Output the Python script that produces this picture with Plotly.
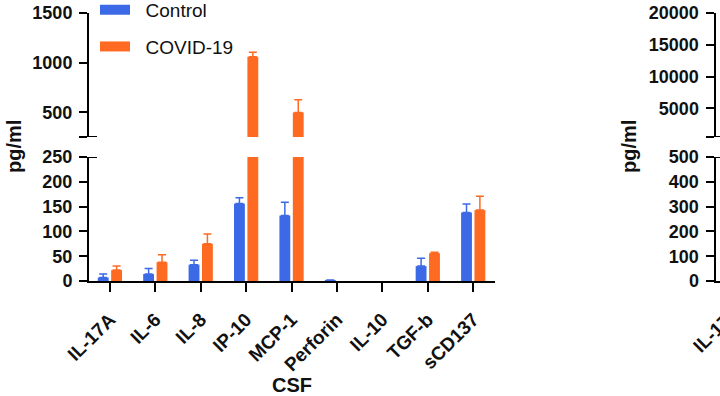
import plotly.graph_objects as go

categories = ["IL-17A", "IL-6", "IL-8", "IP-10", "MCP-1", "Perforin", "IL-10", "TGF-b", "sCD137"]
control = [7, 14, 33, 156, 132, 2, None, 30, 138]
control_err = [7, 11, 9, 12, 27, 0, 0, 16, 17]
covid = [22, 38, 75, 1060, 498, None, None, 56, 143]
covid_err = [8, 15, 20, 44, 128, 0, 0, 2, 28]

BLUE = "#3C6AE6"
ORANGE = "#FF6A22"
FONT = "Liberation Sans, Arial, sans-serif"
W, H = 720, 396

def px_x(p):
    return p / W

def px_y(p):
    return 1 - p / H

fig = go.Figure()

for axis in ["y", "y2"]:
    for name, vals, err, col in [("Control", control, control_err, BLUE),
                                 ("COVID-19", covid, covid_err, ORANGE)]:
        fig.add_trace(go.Bar(
            x=categories, y=vals, name=name, marker_color=col,
            marker_line_width=0, showlegend=False,
            xaxis="x", yaxis=axis,
            error_y=dict(type="data", array=err, arrayminus=[0] * len(err),
                         symmetric=False, color=col, thickness=1.5, width=4),
        ))

# legend entries (wide swatches)
for name, col in [("Control", BLUE), ("COVID-19", ORANGE)]:
    fig.add_trace(go.Scatter(x=[None], y=[None], mode="lines", name="\u00a0\u00a0" + name,
                             line=dict(color=col, width=13), legendgroup=name,
                             xaxis="x", yaxis="y"))

# empty right panel (cut off)
fig.add_trace(go.Bar(x=[None], y=[None], xaxis="x2", yaxis="y3", showlegend=False))
fig.add_trace(go.Bar(x=[None], y=[None], xaxis="x2", yaxis="y4", showlegend=False))

tickfont = dict(family=FONT, size=18, color="#111111", weight="bold")
common_y = dict(showline=True, linecolor="black", linewidth=2, ticks="outside",
                ticklen=8, tickwidth=2, tickcolor="black", showgrid=False,
                zeroline=False, tickfont=tickfont, automargin=False,
                ticklabelstandoff=3)

low_dom = [px_y(281), px_y(157)]
up_dom = [px_y(137), px_y(13)]

fig.update_layout(
    width=W, height=H,
    margin=dict(l=0, r=0, t=0, b=0, autoexpand=False),
    paper_bgcolor="white", plot_bgcolor="white",
    barmode="group", bargap=0.41, bargroupgap=0.19,
    xaxis=dict(domain=[px_x(89), px_x(495)], anchor="y", range=[-0.46, 8.48],
               showline=True, linecolor="black", linewidth=2, ticks="outside",
               ticklen=9, tickwidth=2, tickcolor="black", tickangle=-45,
               tickfont=dict(family=FONT, size=19, color="#111111", weight="bold"),
               ticklabelstandoff=9, automargin=False,
               showgrid=False, zeroline=False),
    yaxis=dict(domain=low_dom, anchor="x", range=[0, 250],
               tickvals=[0, 50, 100, 150, 200, 250], **common_y),
    yaxis2=dict(domain=up_dom, anchor="x", range=[250, 1500],
                tickvals=[250, 500, 1000, 1500], ticktext=["", "500", "1000", "1500"],
                **common_y),
    xaxis2=dict(domain=[px_x(715.5), 1], anchor="y3", range=[-0.46, 8.48],
                showline=True, linecolor="black", linewidth=2, showticklabels=False,
                showgrid=False, zeroline=False, automargin=False),
    yaxis3=dict(domain=low_dom, anchor="x2", range=[0, 500],
                tickvals=[0, 100, 200, 300, 400, 500], **common_y),
    yaxis4=dict(domain=up_dom, anchor="x2", range=[500, 20000],
                tickvals=[500, 5000, 10000, 15000, 20000],
                ticktext=["", "5000", "10000", "15000", "20000"], **common_y),
    legend=dict(x=px_x(95), y=1.023, xanchor="left", yanchor="top",
                bgcolor="rgba(0,0,0,0)", font=dict(family=FONT, size=19, color="#111111"),
                tracegroupgap=9, itemwidth=30),
    showlegend=True,
)

# break caps
shapes = []
for yref, val, ax_px in [("y", 250, 89), ("y2", 250, 89), ("y3", 500, 715.5), ("y4", 500, 715.5)]:
    shapes.append(dict(type="line", xref="paper", yref=yref,
                       x0=px_x(ax_px - 1), x1=px_x(ax_px + 8), y0=val, y1=val,
                       line=dict(color="black", width=2)))
fig.update_layout(shapes=shapes)

title_font = dict(family=FONT, size=20, color="#111111")
fig.add_annotation(text="<b>pg/ml</b>", xref="paper", yref="paper", x=px_x(14), y=px_y(147),
                   xanchor="center", yanchor="middle",
                   textangle=-90, showarrow=False, font=title_font)
fig.add_annotation(text="<b>pg/ml</b>", xref="paper", yref="paper", x=px_x(629), y=px_y(147),
                   xanchor="center", yanchor="middle",
                   textangle=-90, showarrow=False, font=title_font)
fig.add_annotation(text="<b>CSF</b>", xref="paper", yref="paper", x=px_x(292), y=px_y(385),
                   xanchor="center", yanchor="middle",
                   showarrow=False, font=title_font)
fig.add_annotation(text="<b>IL-17A</b>", xref="paper", yref="paper", x=px_x(748), y=px_y(298),
                   xanchor="right", yanchor="top", textangle=-45, showarrow=False,
                   font=dict(family=FONT, size=19, color="#111111", weight="bold"))

fig.write_html("out.html", config={"displayModeBar": False},
               post_script="document.body.style.margin='0px';")
